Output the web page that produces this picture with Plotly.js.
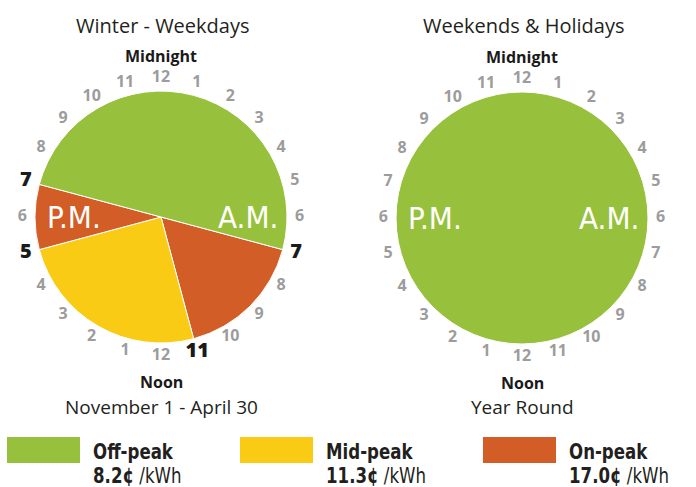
<!DOCTYPE html>
<html><head><meta charset="utf-8">
<script src="https://cdn.plot.ly/plotly-3.0.1.min.js"></script>
<style>html,body{margin:0;padding:0;background:#fff}#chart{width:696px;height:487px}</style>
</head><body><div id="chart"></div>
<script>
// ---- data ----
const periods = ['Off-peak', 'Mid-peak', 'On-peak'];
const prices = ['8.2¢', '11.3¢', '17.0¢'];
const priceUnit = '/kWh';
const periodColors = ['#97C13C', '#F9CB15', '#D25D27'];

const chartTitles = ['Winter - Weekdays', 'Weekends & Holidays'];
const chartSubtitles = ['November 1 - April 30', 'Year Round'];

// Winter weekdays: segments clockwise starting at 7 A.M.
const winterSlices = ['On-peak 7-11 A.M.', 'Mid-peak 11 A.M.-5 P.M.', 'On-peak 5-7 P.M.', 'Off-peak 7 P.M.-7 A.M.'];
const winterPeriods = ['On-peak', 'Mid-peak', 'On-peak', 'Off-peak'];
const winterHours = [4, 6, 2, 12];
const winterStartHour = 7;
// Weekends & holidays
const weekendSlices = ['Off-peak all day'];
const weekendPeriods = ['Off-peak'];
const weekendHours = [24];
const weekendStartHour = 0;

// 24-hour clock face (hour index 0 = midnight at top, clockwise)
const clockLabels = ['12','1','2','3','4','5','6','7','8','9','10','11','12','1','2','3','4','5','6','7','8','9','10','11'];
const winterBoundaryHours = [7, 11, 17, 19];
const ampmLabels = ['A.M.', 'P.M.'];
const ampmHours = [6, 18];
const noonMidnight = ['Midnight', 'Noon'];

// ---- layout helpers ----
const W = 696, H = 487;
const px = x => x / W, py = y => 1 - y / H;
const pieGeom = [{cx: 161, cy: 217, r: 126}, {cx: 522, cy: 218, r: 126}];
const RMAX = 1.2;
const dom = (g, s) => ({x: [px(g.cx - g.r * s), px(g.cx + g.r * s)], y: [py(g.cy + g.r * s), py(g.cy - g.r * s)]});
const colorOf = p => periodColors[periods.indexOf(p)];
const NUMFONT = 'Open Sans, Noto Sans, sans-serif';
const NARROW = 'Liberation Sans Narrow, DejaVu Sans Condensed, sans-serif';

const traces = [];
function pie(labels, per, vals, start, d) {
  return {
    type: 'pie', labels: labels, values: vals, sort: false, direction: 'clockwise',
    rotation: start * 15, textinfo: 'none', hoverinfo: 'label+value', showlegend: false,
    marker: {colors: per.map(colorOf), line: {color: '#ffffff', width: 1}},
    domain: d
  };
}
traces.push(pie(winterSlices, winterPeriods, winterHours, winterStartHour, dom(pieGeom[0], 1)));
traces.push(pie(weekendSlices, weekendPeriods, weekendHours, weekendStartHour, dom(pieGeom[1], 1)));

function hourText(subplot, skip) {
  const th = [], tx = [];
  clockLabels.forEach((l, i) => { if (!skip.includes(i)) { th.push(i * 15); tx.push(l); } });
  return {type: 'scatterpolar', subplot: subplot, mode: 'text', r: th.map(() => 1.1), theta: th, text: tx,
    textfont: {family: NUMFONT, size: 16, color: '#9c9c9c', weight: 700}, cliponaxis: false, hoverinfo: 'skip', showlegend: false};
}
traces.push(hourText('polar', winterBoundaryHours));
traces.push(hourText('polar2', []));
traces.push({type: 'scatterpolar', subplot: 'polar', mode: 'text', r: winterBoundaryHours.map(() => 1.11),
  theta: winterBoundaryHours.map(h => h * 15), text: winterBoundaryHours.map(h => clockLabels[h]),
  textfont: {family: NUMFONT, size: 20, color: '#1a1a1a', weight: 800}, cliponaxis: false, hoverinfo: 'skip', showlegend: false});

function polarAx(d) {
  return {domain: d, bgcolor: 'rgba(0,0,0,0)',
    angularaxis: {rotation: 90, direction: 'clockwise', visible: false},
    radialaxis: {range: [0, RMAX], visible: false}};
}

const annotations = [], shapes = [], squeeze = [];
pieGeom.forEach((g, k) => {
  annotations.push({xref: 'paper', yref: 'paper', x: px(g.cx + 1), y: py(25), text: chartTitles[k], showarrow: false,
    font: {family: NUMFONT, size: 20, color: '#231f20'}, xanchor: 'center', yanchor: 'middle'});
  annotations.push({xref: 'paper', yref: 'paper', x: px(g.cx), y: py(407), text: chartSubtitles[k], showarrow: false,
    font: {family: NUMFONT, size: 19, color: '#231f20'}, xanchor: 'center', yanchor: 'middle'});
  annotations.push({xref: 'paper', yref: 'paper', x: px(g.cx), y: py(g.cy - 1.28 * g.r), text: '<b>' + noonMidnight[0] + '</b>', showarrow: false,
    font: {family: NUMFONT, size: 16, color: '#1a1a1a', weight: 800}, xanchor: 'center', yanchor: 'middle'});
  annotations.push({xref: 'paper', yref: 'paper', x: px(g.cx), y: py(g.cy + 1.31 * g.r), text: '<b>' + noonMidnight[1] + '</b>', showarrow: false,
    font: {family: NUMFONT, size: 16, color: '#1a1a1a', weight: 800}, xanchor: 'center', yanchor: 'middle'});
  ampmLabels.forEach((t, j) => {
    const ang = ampmHours[j] * 15 * Math.PI / 180;
    annotations.push({xref: 'paper', yref: 'paper', x: px(g.cx + 0.69 * g.r * Math.sin(ang)), y: py(g.cy), text: t, showarrow: false,
      font: {family: NARROW, size: 31, color: '#ffffff'}, xanchor: 'center', yanchor: 'middle'});
  });
});

const legendSwatchX = [7, 240, 483];
periods.forEach((p, i) => {
  shapes.push({type: 'rect', xref: 'paper', yref: 'paper', x0: px(legendSwatchX[i]), x1: px(legendSwatchX[i] + 73),
    y0: py(463), y1: py(437), fillcolor: periodColors[i], line: {width: 0}});
  squeeze.push(annotations.length);
  annotations.push({xref: 'paper', yref: 'paper', x: px(legendSwatchX[i] + 84), y: py(451), text: '<b>' + p + '</b>',
    showarrow: false, xanchor: 'left', yanchor: 'middle',
    font: {family: NARROW, size: 22, color: '#231f20'}});
  squeeze.push(annotations.length);
  annotations.push({xref: 'paper', yref: 'paper', x: px(legendSwatchX[i] + 84), y: py(475),
    text: '<b>' + prices[i] + '</b> ' + priceUnit,
    showarrow: false, xanchor: 'left', yanchor: 'middle',
    font: {family: NARROW, size: 22, color: '#231f20'}});
});

const layout = {
  width: W, height: H, margin: {l: 0, r: 0, t: 0, b: 0},
  paper_bgcolor: '#ffffff', showlegend: false,
  polar: polarAx(dom(pieGeom[0], RMAX)), polar2: polarAx(dom(pieGeom[1], RMAX)),
  annotations: annotations, shapes: shapes
};
Plotly.newPlot('chart', traces, layout, {displayModeBar: false, staticPlot: true}).then(gd => {
  // condense legend text horizontally (condensed typeface look)
  squeeze.forEach(i => {
    const t = gd.querySelector('.annotation[data-index="' + i + '"] text.annotation-text');
    if (!t) return;
    const x0 = t.getBBox().x;
    t.setAttribute('transform', 'translate(' + x0 + ',0) scale(0.84,1) translate(' + (-x0) + ',0)');
  });
});
</script></body></html>
